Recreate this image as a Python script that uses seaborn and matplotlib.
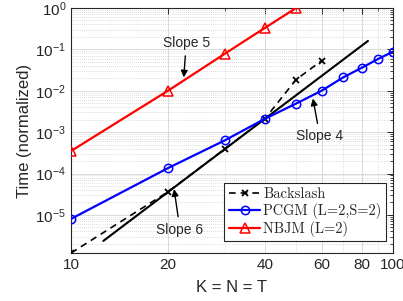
import matplotlib
matplotlib.use("Agg")
import matplotlib.pyplot as plt
import matplotlib.ticker as mticker
import seaborn as sns
import pandas as pd

# ---- data ----
bs_x = [10, 20, 30, 40, 50, 60]
bs_y = [1.2e-6, 3.6e-5, 3.9e-4, 2.1e-3, 1.86e-2, 5.3e-2]

pcgm_x = [10, 20, 30, 40, 50, 60, 70, 80, 90, 100]
pcgm_y = [8e-6, 1.35e-4, 6.3e-4, 2.1e-3, 4.9e-3, 1.0e-2, 2.1e-2, 3.6e-2, 5.9e-2, 8.8e-2]

nbjm_x = [10, 20, 30, 40, 50]
nbjm_y = [3.5e-4, 1.0e-2, 7.8e-2, 0.33, 1.0]

ref_x = [12.6, 83.6]
ref_y = [2.35e-6, 0.16]

xticks = [10, 20, 40, 60, 80, 100]
xminor = [30, 50, 70, 90]
labels = ["Backslash", "PCGM (L=2,S=2)", "NBJM (L=2)"]

sns.set_theme(style="white")
plt.rcParams["font.family"] = ["Liberation Sans", "DejaVu Sans"]
plt.rcParams["mathtext.fontset"] = "custom"
plt.rcParams["mathtext.rm"] = "Liberation Sans"
plt.rcParams["mathtext.it"] = "Liberation Sans:italic"
plt.rcParams["mathtext.bf"] = "Liberation Sans:bold"

fig = plt.figure(figsize=(4.03, 3.01), dpi=100)
ax = fig.add_axes([71 / 403, 1 - 253 / 301, 322 / 403, 245 / 301])

df_bs = pd.DataFrame({"x": bs_x, "y": bs_y})
df_pc = pd.DataFrame({"x": pcgm_x, "y": pcgm_y})
df_nb = pd.DataFrame({"x": nbjm_x, "y": nbjm_y})
df_ref = pd.DataFrame({"x": ref_x, "y": ref_y})

sns.lineplot(data=df_ref, x="x", y="y", ax=ax, color="black", lw=1.5, zorder=3)
sns.lineplot(data=df_bs, x="x", y="y", ax=ax, color="black", lw=1.2, linestyle=(0, (4, 3)),
             marker="x", markersize=4, markeredgecolor="black", markeredgewidth=1.3,
             label=labels[0], zorder=4)
sns.lineplot(data=df_pc, x="x", y="y", ax=ax, color="blue", lw=1.6,
             marker="o", markersize=6, markerfacecolor="none", markeredgecolor="blue",
             markeredgewidth=1.1, label=labels[1], zorder=5)
sns.lineplot(data=df_nb, x="x", y="y", ax=ax, color="red", lw=1.6,
             marker="^", markersize=6.5, markerfacecolor="none", markeredgecolor="red",
             markeredgewidth=1.1, label=labels[2], zorder=5)

ax.set_xscale("log")
ax.set_yscale("log")
ax.set_xlim(10, 100)
ax.set_ylim(1.2e-6, 1)
ax.xaxis.set_major_locator(mticker.FixedLocator(xticks))
ax.xaxis.set_major_formatter(mticker.FixedFormatter([str(t) for t in xticks]))
ax.xaxis.set_minor_locator(mticker.FixedLocator(xminor))
ax.xaxis.set_minor_formatter(mticker.NullFormatter())
ax.yaxis.set_major_locator(mticker.LogLocator(base=10, numticks=10))
ax.yaxis.set_minor_locator(mticker.LogLocator(base=10, subs=range(2, 10), numticks=20))
ax.yaxis.set_minor_formatter(mticker.NullFormatter())

ax.grid(which="major", color="0.85", lw=0.7, ls="-")
ax.grid(which="minor", color="0.82", lw=0.6, ls=(0, (1, 1.5)))
ax.set_axisbelow(True)

for s in ax.spines.values():
    s.set_visible(True)
    s.set_color("0.15")
    s.set_linewidth(0.8)
ax.tick_params(which="both", direction="in", top=True, right=True, colors="0.15",
               labelsize=11, labelcolor="0.15")
ax.tick_params(which="major", length=4, width=0.7)
ax.tick_params(which="minor", length=2, width=0.6)

ax.set_xlabel("K = N = T", fontsize=12, color="0.15", labelpad=6)
ax.set_ylabel("Time (normalized)", fontsize=12, color="0.15", labelpad=2)

ap = dict(arrowstyle="-|>", color="black", lw=1.0, mutation_scale=10, shrinkA=2, shrinkB=0)
ax.annotate("Slope 5", xy=(22.4, 0.021), xytext=(22.8, 0.144), ha="center", va="center",
            fontsize=10, arrowprops=ap)
ax.annotate("Slope 4", xy=(56.4, 6.5e-3), xytext=(59.3, 7.9e-4), ha="center", va="center",
            fontsize=10, arrowprops=ap)
ax.annotate("Slope 6", xy=(20.9, 4.2e-5), xytext=(21.8, 4.4e-6), ha="center", va="center",
            fontsize=10, arrowprops=ap)

leg = ax.legend(loc="lower right", bbox_to_anchor=(0.978, 0.049), borderaxespad=0,
                prop={"family": "cmr10", "size": 10.4}, fancybox=False, framealpha=1,
                edgecolor="0.15", handlelength=2.2, handletextpad=0.2, borderpad=0.3,
                labelspacing=0.12)
leg.get_frame().set_linewidth(0.8)

fig.savefig("out.png", dpi=100)
